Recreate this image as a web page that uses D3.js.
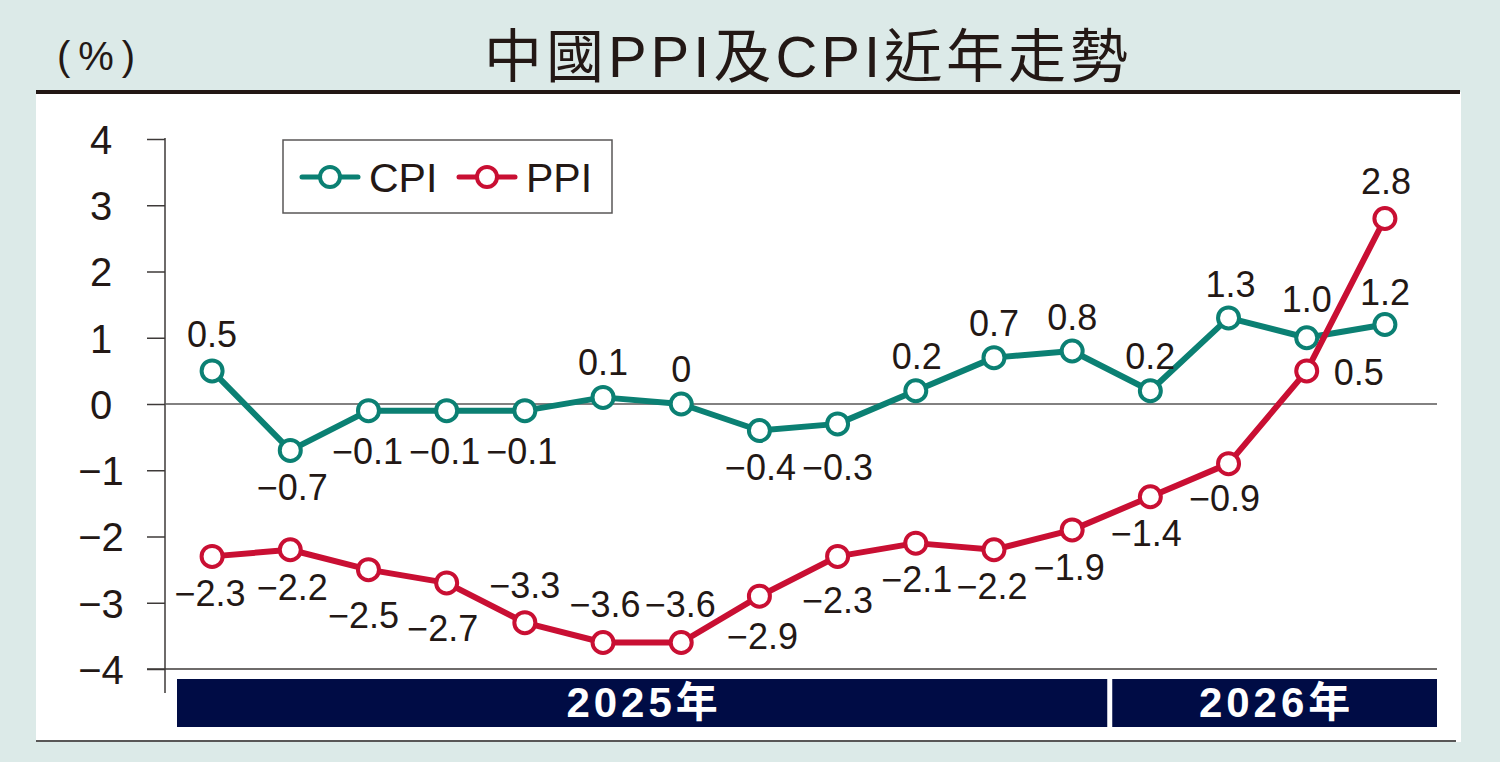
<!DOCTYPE html>
<html>
<head>
<meta charset="utf-8">
<script src="https://cdn.jsdelivr.net/npm/d3@7"></script>
<style>
  html, body { margin: 0; padding: 0; background: #dceae8; }
  svg { display: block; }
</style>
</head>
<body>
<div id="chart"></div>
<script>
// monthly data, Jan 2025 - Apr 2026
const months = ["2025-01","2025-02","2025-03","2025-04","2025-05","2025-06","2025-07","2025-08",
  "2025-09","2025-10","2025-11","2025-12","2026-01","2026-02","2026-03","2026-04"];
const cpi = [0.5, -0.7, -0.1, -0.1, -0.1, 0.1, 0, -0.4, -0.3, 0.2, 0.7, 0.8, 0.2, 1.3, 1.0, 1.2];
const ppi = [-2.3, -2.2, -2.5, -2.7, -3.3, -3.6, -3.6, -2.9, -2.3, -2.1, -2.2, -1.9, -1.4, -0.9, 0.5, 2.8];
const cpiText = ["0.5","-0.7","-0.1","-0.1","-0.1","0.1","0","-0.4","-0.3","0.2","0.7","0.8","0.2","1.3","1.0","1.2"];
const ppiText = ["-2.3","-2.2","-2.5","-2.7","-3.3","-3.6","-3.6","-2.9","-2.3","-2.1","-2.2","-1.9","-1.4","-0.9","0.5","2.8"];
const yTicks = [4, 3, 2, 1, 0, -1, -2, -3, -4];
const years = ["2025", "2026"];
const seriesNames = ["CPI", "PPI"];

// label offsets from each marker: [dx, dy to baseline]
const cpiLabelOff = [[0,-24],[2,50],[-1,53],[-2,53],[-3,53],[0,-22],[0,-22],[1,49],[0,56],
  [1,-22],[0,-22],[0,-21],[0,-22],[2,-21],[0,-26],[0,-20]];
const ppiLabelOff = [[-2,50],[2,50],[-5,58],[-4,58],[0,-25],[2,-26],[-1,-26],[3,53],[0,57],
  [1,49],[-2,49],[-3,50],[-4,49],[-4,47],[52,14],[1,-25]];

const W = 1500, H = 762;
const cpiColor = "#0b8073", ppiColor = "#c90f33", ink = "#231815", navy = "#000c45";
const latin = "'Liberation Sans', Arial, Helvetica, sans-serif";
const cjk = "'Liberation Sans', 'Noto Sans CJK TC', sans-serif";
const minus = s => String(s).replace("-", "\u2212");

const svg = d3.select("#chart").append("svg").attr("width", W).attr("height", H);

svg.append("rect").attr("width", W).attr("height", H).attr("fill", "#dceae8");
// white panel with rules
svg.append("rect").attr("x", 36).attr("y", 92).attr("width", 1425).attr("height", 650).attr("fill", "#fff");
svg.append("line").attr("x1", 36).attr("x2", 1460).attr("y1", 92).attr("y2", 92)
  .attr("stroke", ink).attr("stroke-width", 4);
svg.append("line").attr("x1", 36).attr("x2", 1456).attr("y1", 741).attr("y2", 741)
  .attr("stroke", "#595757").attr("stroke-width", 2);

// title and unit
svg.append("text").attr("x", 808).attr("y", 77).attr("text-anchor", "middle")
  .attr("font-family", cjk).attr("font-size", 58).attr("font-weight", 400)
  .attr("letter-spacing", 4).attr("fill", ink)
  .text("中國PPI及CPI近年走勢");
svg.append("text").attr("x", 100).attr("y", 70).attr("text-anchor", "middle")
  .attr("font-family", latin).attr("font-size", 40).attr("letter-spacing", 8).attr("fill", ink)
  .text("(%)");

const axisX = 165, xEnd = 1437;
const x = d3.scaleBand().domain(months).range([173, 1424]).paddingInner(0).paddingOuter(0);
const cx = m => x(m) + x.bandwidth() / 2;
const y = d3.scaleLinear().domain([-4, 4]).range([669, 139]);

// y axis
const yAxis = svg.append("g").attr("transform", `translate(${axisX},0)`)
  .call(d3.axisLeft(y).tickValues(yTicks).tickSize(18).tickPadding(0).tickFormat(minus));
yAxis.select(".domain").remove();
yAxis.selectAll(".tick line").attr("stroke", "#3e3a39").attr("stroke-width", 1.5);
yAxis.selectAll(".tick text").attr("x", -64).attr("text-anchor", "middle").attr("dy", "0.36em")
  .attr("font-family", latin).attr("font-size", 40).attr("fill", ink);
svg.append("line").attr("x1", axisX).attr("x2", axisX).attr("y1", y(4) - 1).attr("y2", 693)
  .attr("stroke", "#3e3a39").attr("stroke-width", 1.5);
svg.append("line").attr("x1", axisX).attr("x2", xEnd).attr("y1", y(0)).attr("y2", y(0))
  .attr("stroke", "#595757").attr("stroke-width", 1.5);
svg.append("line").attr("x1", axisX - 18).attr("x2", xEnd).attr("y1", y(-4)).attr("y2", y(-4))
  .attr("stroke", "#3e3a39").attr("stroke-width", 1.5);

// year bars
const yearGroups = years.map((yr, i) => {
  const ms = months.filter(m => m.startsWith(yr));
  const left = x(ms[0]) + (i === 0 ? 4 : 1);
  const right = i === years.length - 1 ? xEnd : x(ms[ms.length - 1]) + x.bandwidth() - 4;
  return { yr, left, right };
});
const bars = svg.append("g").selectAll("g").data(yearGroups).join("g");
bars.append("rect").attr("x", d => d.left).attr("y", 679).attr("width", d => d.right - d.left)
  .attr("height", 48).attr("fill", navy);
bars.append("text").attr("x", d => (d.left + d.right) / 2 + 2).attr("y", 717).attr("text-anchor", "middle")
  .attr("font-family", cjk).attr("font-size", 42).attr("font-weight", "bold")
  .attr("letter-spacing", 4).attr("fill", "#fff")
  .text(d => d.yr + "年");

// series
const line = d3.line().x((d, i) => cx(months[i])).y(d => y(d));
const series = [
  { name: "CPI", values: cpi, text: cpiText, off: cpiLabelOff, color: cpiColor },
  { name: "PPI", values: ppi, text: ppiText, off: ppiLabelOff, color: ppiColor }
];
series.forEach(s => {
  const g = svg.append("g");
  g.append("path").datum(s.values).attr("d", line).attr("fill", "none")
    .attr("stroke", s.color).attr("stroke-width", 6).attr("stroke-linejoin", "round");
  g.selectAll("circle").data(s.values).join("circle")
    .attr("cx", (d, i) => cx(months[i])).attr("cy", d => y(d)).attr("r", 10.5)
    .attr("fill", "#fff").attr("stroke", s.color).attr("stroke-width", 4);
});
// labels on top
series.forEach(s => {
  svg.append("g").selectAll("text").data(s.values).join("text")
    .attr("x", (d, i) => cx(months[i]) + s.off[i][0])
    .attr("y", (d, i) => y(d) + s.off[i][1])
    .attr("text-anchor", "middle").attr("font-family", latin).attr("font-size", 36).attr("fill", ink)
    .text((d, i) => minus(s.text[i]));
});

// legend
const lg = svg.append("g");
lg.append("rect").attr("x", 283).attr("y", 140).attr("width", 329).attr("height", 73)
  .attr("fill", "#fff").attr("stroke", "#595757").attr("stroke-width", 1.5);
const legendX = [302, 459];
seriesNames.forEach((n, i) => {
  const s = series.find(d => d.name === n);
  const gx = legendX[i];
  lg.append("line").attr("x1", gx).attr("x2", gx + 56).attr("y1", 177).attr("y2", 177)
    .attr("stroke", s.color).attr("stroke-width", 5).attr("stroke-linecap", "round");
  lg.append("circle").attr("cx", gx + 28).attr("cy", 177).attr("r", 10)
    .attr("fill", "#fff").attr("stroke", s.color).attr("stroke-width", 4);
  lg.append("text").attr("x", gx + 67).attr("y", 192).attr("font-family", latin)
    .attr("font-size", 41).attr("fill", ink).text(n);
});
</script>
</body>
</html>
